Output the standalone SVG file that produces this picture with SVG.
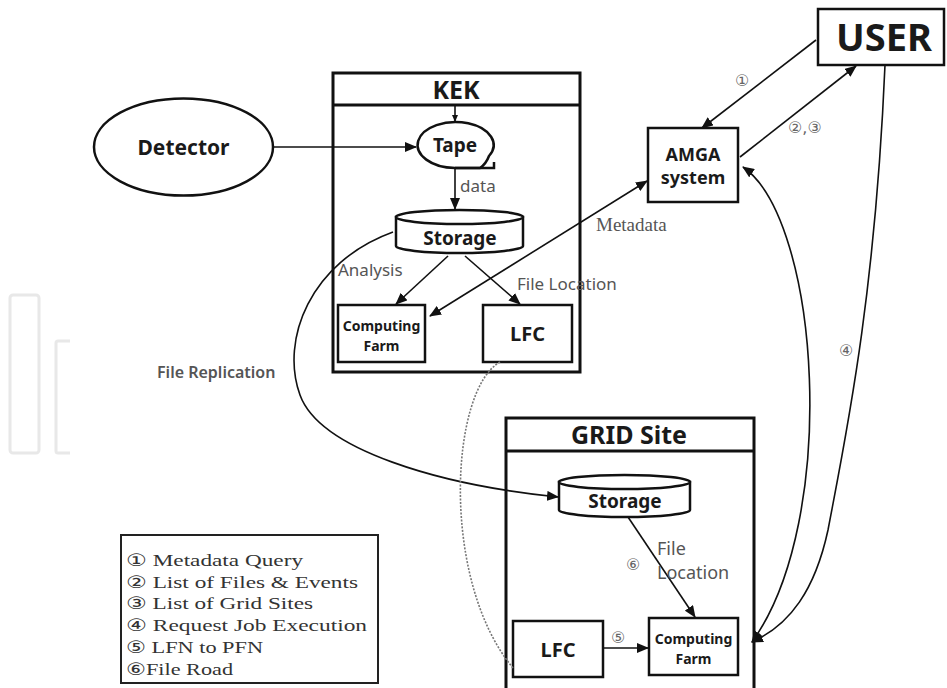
<svg xmlns="http://www.w3.org/2000/svg" width="947" height="688" viewBox="0 0 947 688">
<style>
.box{fill:#fff;stroke:#111;stroke-width:2.5}
.frame{fill:none;stroke:#111;stroke-width:3}
.node{font-family:"Noto Sans","Open Sans","DejaVu Sans",sans-serif;font-weight:bold;fill:#1a1a1a;text-anchor:middle}
.lbl{font-family:"Noto Sans","Open Sans","DejaVu Sans",sans-serif;fill:#555}
.ser{font-family:"Liberation Serif","DejaVu Serif","DejaVu Sans",serif;fill:#555}
.num{font-family:"DejaVu Sans","Liberation Serif",serif;fill:#666;font-size:16px}
.leg{font-family:"Liberation Serif","DejaVu Serif","DejaVu Sans",serif;fill:#333;font-size:17px}
.con{fill:none;stroke:#111;stroke-width:1.6}
.wm{fill:none;stroke:#e8e8e8;stroke-width:3}
</style>
<defs>
<marker id="arr" markerUnits="userSpaceOnUse" markerWidth="12" markerHeight="10" refX="11" refY="5" orient="auto-start-reverse">
<path d="M0,0 L12,5 L0,10 z" fill="#111"/>
</marker>
<marker id="sarr" markerUnits="userSpaceOnUse" markerWidth="7" markerHeight="6" refX="7" refY="3" orient="auto">
<path d="M0,0 L7,3 L0,6 z" fill="#111"/>
</marker>
</defs>
<rect width="947" height="688" fill="#fff"/>

<g id="watermark">
<rect class="wm" x="10" y="295" width="29" height="158" rx="3"/>
<path class="wm" d="M70 341 L58 341 Q56 341 56 343 L56 451 Q56 453 58 453 L70 453"/>
</g>

<g id="kek">
<rect class="frame" x="333" y="73" width="247" height="299"/>
<line x1="333" y1="105" x2="580" y2="105" stroke="#111" stroke-width="3"/>
<text class="node" x="456" y="99" font-size="25">KEK</text>
</g>

<g id="grid-site">
<rect class="frame" x="506" y="418" width="248" height="290"/>
<line x1="506" y1="451" x2="754" y2="451" stroke="#111" stroke-width="3"/>
<text class="node" x="629" y="444" font-size="25">GRID Site</text>
</g>

<g id="detector">
<ellipse cx="183.5" cy="147" rx="89.5" ry="48.5" class="box"/>
<text class="node" x="183.5" y="155" font-size="21">Detector</text>
</g>

<g id="tape">
<path class="box" d="M455 168 A38 23 0 1 1 489 156 Q486 164 480 168 Z"/>
<path fill="none" stroke="#111" stroke-width="2.5" d="M455 168 L494 168 L494 162"/>
<text class="node" x="455" y="152" font-size="19">Tape</text>
</g>

<g id="kek-storage">
<path class="box" d="M396 217 L396 246 A63.5 7 0 0 0 523 246 L523 217 Z"/>
<ellipse class="box" cx="459.5" cy="217" rx="63.5" ry="7"/>
<text class="node" x="460" y="245" font-size="19">Storage</text>
</g>

<g id="kek-computing-farm">
<rect class="box" x="338" y="305" width="87" height="57"/>
<text class="node" x="381.5" y="331" font-size="14">Computing</text>
<text class="node" x="381.5" y="351" font-size="14">Farm</text>
</g>

<g id="kek-lfc">
<rect class="box" x="483" y="305" width="89" height="57"/>
<text class="node" x="527.5" y="341" font-size="20">LFC</text>
</g>

<g id="amga">
<rect class="box" x="648" y="128" width="90" height="74"/>
<text class="node" x="693" y="161" font-size="18">AMGA</text>
<text class="node" x="693" y="184" font-size="18">system</text>
</g>

<g id="user">
<rect class="box" x="818" y="9" width="126" height="56"/>
<text class="node" x="884" y="51" font-size="38">USER</text>
</g>

<g id="grid-storage">
<path class="box" d="M559 482 L559 510 A65.5 7 0 0 0 690 510 L690 482 Z"/>
<ellipse class="box" cx="624.5" cy="482" rx="65.5" ry="7"/>
<text class="node" x="625" y="508" font-size="19">Storage</text>
</g>

<g id="grid-lfc">
<rect class="box" x="513" y="621" width="90" height="56"/>
<text class="node" x="558" y="657" font-size="20">LFC</text>
</g>

<g id="grid-computing-farm">
<rect class="box" x="649" y="618" width="89" height="57"/>
<text class="node" x="693.5" y="644" font-size="14">Computing</text>
<text class="node" x="693.5" y="664" font-size="14">Farm</text>
</g>

<g id="connectors">
<line class="con" x1="273" y1="147" x2="416" y2="147" marker-end="url(#arr)"/>
<line class="con" x1="455" y1="105" x2="455" y2="122" marker-end="url(#sarr)"/>
<line class="con" x1="455" y1="169" x2="455" y2="209" marker-end="url(#arr)"/>
<line class="con" x1="448" y1="256" x2="396" y2="304" marker-end="url(#arr)"/>
<line class="con" x1="465" y1="256" x2="520" y2="304" marker-end="url(#arr)"/>
<line class="con" x1="430" y1="316" x2="647" y2="181" marker-start="url(#arr)" marker-end="url(#arr)"/>
<line class="con" x1="816" y1="40" x2="702" y2="128" marker-end="url(#arr)"/>
<line class="con" x1="740" y1="157" x2="856" y2="66" marker-end="url(#arr)"/>
<path class="con" d="M743 167 C820 220, 840 520, 752 642" marker-start="url(#arr)" marker-end="url(#arr)"/>
<path class="con" d="M885 65 C875 300, 845 440, 828 530 C815 590, 790 625, 752 642" marker-end="url(#arr)"/>
<path class="con" d="M393 232 C310 262, 280 340, 300 395 C320 450, 440 485, 558 497" marker-end="url(#arr)"/>
<line class="con" x1="628" y1="517" x2="695" y2="617" marker-end="url(#arr)"/>
<line class="con" x1="603" y1="648" x2="648" y2="648" marker-end="url(#arr)"/>
<path fill="none" stroke="#777" stroke-width="1.6" stroke-dasharray="2 1.5" d="M500 362 C450 390, 440 580, 513 668"/>
</g>

<g id="labels">
<text class="lbl" x="460" y="192" font-size="17">data</text>
<text class="lbl" x="338" y="276" font-size="17">Analysis</text>
<text class="lbl" x="517" y="290" font-size="17">File Location</text>
<text class="ser" x="596" y="231" font-size="19">Metadata</text>
<text class="lbl" x="157" y="378" font-size="16" fill="#333" font-weight="600">File Replication</text>
<text class="lbl" x="657" y="555" font-size="18">File</text>
<text class="lbl" x="657" y="579" font-size="18">Location</text>
<text class="num" x="735" y="86">①</text>
<text class="num" x="788" y="133">②,③</text>
<text class="num" x="839" y="356">④</text>
<text class="num" x="611" y="643">⑤</text>
<text class="num" x="626" y="570">⑥</text>
</g>

<g id="legend">
<rect x="121" y="535" width="257" height="148" fill="#fff" stroke="#222" stroke-width="2"/>
<text class="leg" x="126" y="566" textLength="177" lengthAdjust="spacingAndGlyphs">① Metadata Query</text>
<text class="leg" x="126" y="588" textLength="232" lengthAdjust="spacingAndGlyphs">② List of Files &amp; Events</text>
<text class="leg" x="126" y="609" textLength="187" lengthAdjust="spacingAndGlyphs">③ List of Grid Sites</text>
<text class="leg" x="126" y="631" textLength="241" lengthAdjust="spacingAndGlyphs">④ Request Job Execution</text>
<text class="leg" x="126" y="653" textLength="137" lengthAdjust="spacingAndGlyphs">⑤ LFN to PFN</text>
<text class="leg" x="126" y="675" textLength="107" lengthAdjust="spacingAndGlyphs">⑥File Road</text>
</g>
</svg>
